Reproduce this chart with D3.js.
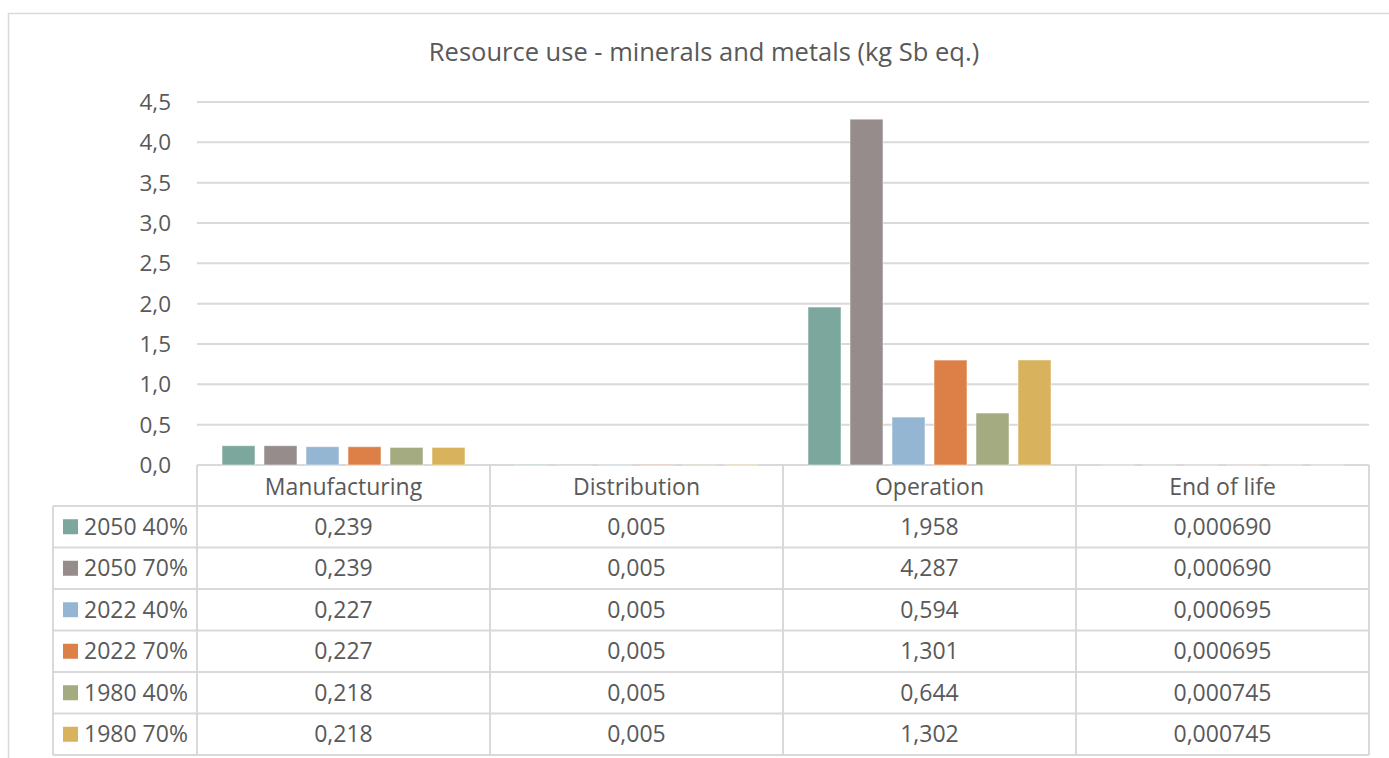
<!DOCTYPE html>
<html>
<head>
<meta charset="utf-8">
<script src="https://cdn.jsdelivr.net/npm/d3@7"></script>
<style>
  html, body { margin: 0; padding: 0; background: #fff; }
  svg { display: block; }
  text { font-family: "Open Sans", Lato, sans-serif; fill: #595959; }
</style>
</head>
<body>
<svg id="chart" width="1389" height="758"></svg>
<script>
// Life-cycle phases (x categories)
const phases = ["Manufacturing", "Distribution", "Operation", "End of life"];

// Scenario names (one series each)
const scenarios = ["2050 40%", "2050 70%", "2022 40%", "2022 70%", "1980 40%", "1980 70%"];

// Series values per phase, kg Sb eq.
const s2050_40 = [0.239, 0.005, 1.958, 0.000690];
const s2050_70 = [0.239, 0.005, 4.287, 0.000690];
const s2022_40 = [0.227, 0.005, 0.594, 0.000695];
const s2022_70 = [0.227, 0.005, 1.301, 0.000695];
const s1980_40 = [0.218, 0.005, 0.644, 0.000745];
const s1980_70 = [0.218, 0.005, 1.302, 0.000745];

// Decimal places shown in the data table per phase
const tableDecimals = [3, 3, 3, 6];

// Y axis tick values
const yTicks = [0, 0.5, 1.0, 1.5, 2.0, 2.5, 3.0, 3.5, 4.0, 4.5];

const seriesColors = ["#7ba79d", "#968c8c", "#94b6d2", "#dd8047", "#a5ab81", "#d8b25c"];

const seriesValues = [s2050_40, s2050_70, s2022_40, s2022_70, s1980_40, s1980_70];
const series = scenarios.map((name, i) => ({ name, values: seriesValues[i], color: seriesColors[i] }));

const svg = d3.select("#chart");
const gridColor = "#d9d9d9";
const fontSize = "23px";

// Chart area frame
svg.append("rect")
  .attr("x", 8.5).attr("y", 13.5)
  .attr("width", 1420).attr("height", 800)
  .attr("fill", "none").attr("stroke", gridColor).attr("stroke-width", 1.5);

// Title
svg.append("text")
  .attr("x", 704).attr("y", 61)
  .attr("text-anchor", "middle")
  .style("font-size", "25.5px")
  .text("Resource use - minerals and metals (kg Sb eq.)");

const plotLeft = 197, plotRight = 1369;
const y = d3.scaleLinear().domain([0, 4.5]).range([465, 102]);
const x = d3.scaleBand().domain(phases).range([plotLeft, plotRight]).paddingInner(0).paddingOuter(0);
const catW = x.bandwidth();
const xs = d3.scaleBand().domain(scenarios).range([25, catW - 25]).paddingInner(9 / 42).paddingOuter(0);

// Horizontal gridlines and tick labels
const fmt = d3.formatLocale({ decimal: ",", thousands: ".", grouping: [3], currency: ["", ""] });
const f1 = fmt.format(".1f");

svg.append("g").selectAll("line").data(yTicks).join("line")
  .attr("x1", plotLeft).attr("x2", plotRight)
  .attr("y1", d => y(d)).attr("y2", d => y(d))
  .attr("stroke", gridColor).attr("stroke-width", 2);

svg.append("g").selectAll("text").data(yTicks).join("text")
  .attr("x", 171).attr("y", d => y(d) + 8)
  .attr("text-anchor", "end")
  .style("font-size", "22.5px")
  .text(d => f1(d));

// Bars
const groups = svg.append("g").selectAll("g").data(series).join("g")
  .attr("fill", d => d.color);
groups.selectAll("rect")
  .data(d => d.values.map((v, j) => ({ v, phase: phases[j], name: d.name })))
  .join("rect")
  .attr("x", d => x(d.phase) + xs(d.name))
  .attr("width", xs.bandwidth())
  .attr("y", d => y(d.v))
  .attr("height", d => y(0) - y(d.v))
  .attr("stroke", "#ffffff").attr("stroke-opacity", 0.5).attr("stroke-width", 1);

// Data table below the plot
const tableTop = 465, headerH = 41, rowH = 41.5;
const legendLeft = 53;
const table = svg.append("g");
const tableBottom = tableTop + headerH + rowH * scenarios.length;

// Vertical lines: category separators
const vLines = [plotLeft].concat(phases.map(p => x(p) + catW));
table.selectAll("line.v").data(vLines).join("line")
  .attr("class", "v")
  .attr("x1", d => d).attr("x2", d => d)
  .attr("y1", tableTop).attr("y2", tableBottom)
  .attr("stroke", gridColor).attr("stroke-width", 2);
table.append("line")
  .attr("x1", legendLeft).attr("x2", legendLeft)
  .attr("y1", tableTop + headerH).attr("y2", tableBottom)
  .attr("stroke", gridColor).attr("stroke-width", 2);

// Horizontal lines: row separators
const hLines = d3.range(scenarios.length + 1).map(i => tableTop + headerH + i * rowH);
table.selectAll("line.h").data(hLines).join("line")
  .attr("class", "h")
  .attr("x1", legendLeft).attr("x2", plotRight)
  .attr("y1", d => d).attr("y2", d => d)
  .attr("stroke", gridColor).attr("stroke-width", 2);

// Header labels
table.selectAll("text.head").data(phases).join("text")
  .attr("class", "head")
  .attr("x", d => x(d) + catW / 2)
  .attr("y", tableTop + headerH / 2 + 9.5)
  .attr("text-anchor", "middle")
  .style("font-size", fontSize)
  .text(d => d);

// Rows: legend key + values
const rows = table.selectAll("g.row").data(series).join("g")
  .attr("class", "row")
  .attr("transform", (d, i) => `translate(0,${tableTop + headerH + i * rowH})`);

rows.append("rect")
  .attr("x", 63).attr("y", rowH / 2 - 7.5)
  .attr("width", 15).attr("height", 15)
  .attr("fill", d => d.color);

rows.append("text")
  .attr("x", 84).attr("y", rowH / 2 + 8)
  .style("font-size", fontSize)
  .text(d => d.name);

rows.selectAll("text.val")
  .data(d => d.values.map((v, j) => ({ v, j })))
  .join("text")
  .attr("class", "val")
  .attr("x", d => x(phases[d.j]) + catW / 2)
  .attr("y", rowH / 2 + 8)
  .attr("text-anchor", "middle")
  .style("font-size", fontSize)
  .text(d => fmt.format("." + tableDecimals[d.j] + "f")(d.v));
</script>
</body>
</html>
